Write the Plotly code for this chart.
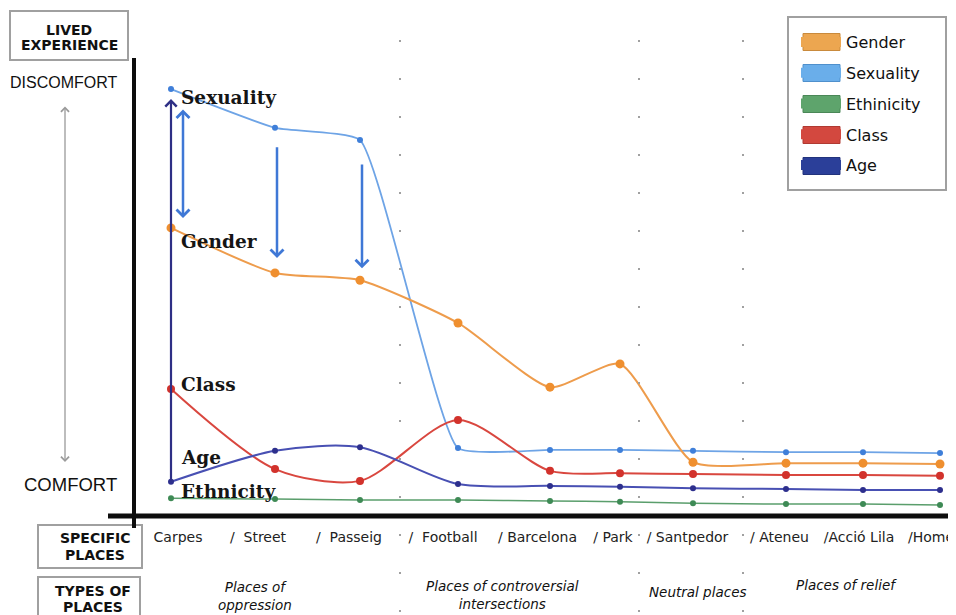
import plotly.graph_objects as go

# ---------------- data ----------------
places = ["Carpes", "Street", "Passeig", "Football", "Barcelona", "Park",
          "Santpedor", "Ateneu", "Acció Lila", "Home"]
# position of each place along the (uneven) route axis
place_pos = [36, 140, 225, 323, 415, 485, 558, 651, 728, 805]
# tick labels of the place row, and where their centres sit on the route axis
place_labels = ["Carpes", "/\u00a0\u00a0Street", "/\u00a0\u00a0Passeig", "/\u00a0\u00a0Football",
                "/\u00a0Barcelona", "/\u00a0Park", "/\u00a0Santpedor", "/\u00a0Ateneu",
                "/Acció Lila", "/Home"]
place_label_pos = [43, 123, 214, 308, 402.5, 478, 552.5, 644.5, 724, 796]

# lived experience (0 = comfort, 10 = discomfort)
sexuality = [9.36, 8.51, 8.24, 1.47, 1.43, 1.43, 1.41, 1.38, 1.38, 1.36]
gender    = [6.31, 5.32, 5.16, 4.22, 2.81, 3.32, 1.16, 1.14, 1.14, 1.12]
class_    = [2.77, 1.01, 0.75, 2.09, 0.97, 0.92, 0.90, 0.88, 0.88, 0.86]
age       = [0.73, 1.41, 1.49, 0.68, 0.64, 0.62, 0.59, 0.57, 0.55, 0.55]
ethnicity = [0.37, 0.35, 0.33, 0.33, 0.31, 0.29, 0.26, 0.24, 0.24, 0.22]

legend_names = ["Gender", "Sexuality", "Ethinicity", "Class", "Age"]
place_types = ["Places of<br>oppression", "Places of controversial<br>intersections",
               "Neutral places", "Places of relief"]

# ---------------- helpers (screen pixels -> paper) ----------------
BODY = 8                     # default page margin around the plot div
FW, FH = 956 - BODY, 615 - BODY
L, T, R, B = 135, 60, 956, 515   # plot area in screen pixels
W, H = R - L, B - T


def PX(px):
    return (px - L) / W


def PY(py):
    return (B - py) / H


fig = go.Figure()

series = [
    ("Sexuality", sexuality, "#6ea4e6", "#3f7fd9", 6, 1.8, 0.4),
    ("Gender", gender, "#ee9c4c", "#ef8f2f", 9, 2, 0.6),
    ("Class", class_, "#d9473f", "#d2322c", 8, 2, 0.8),
    ("Age", age, "#4850b3", "#2d2f8d", 6, 2, 0.8),
    ("Ethnicity", ethnicity, "#5a9e6c", "#3e8a55", 6, 1.5, 0.6),
]
for name, vals, lc, mc, ms, lw, sm in series:
    fig.add_trace(go.Scatter(
        x=place_pos, y=vals, name=name, mode="lines+markers",
        line=dict(color=lc, width=lw, shape="spline", smoothing=sm),
        marker=dict(color=mc, size=ms),
        showlegend=False, hoverinfo="skip"))

legend_cols = ["#eca650", "#6aaeea", "#5ea46c", "#d3483f", "#2b3f99"]
legend_edge = ["#c98a3c", "#4f90cc", "#4a8757", "#b03a32", "#22337c"]
for i, (nm, c) in enumerate(zip(legend_names, legend_cols)):
    fig.add_trace(go.Scatter(
        x=[None], y=[None], name=nm, mode="lines",
        line=dict(color=c, width=18), legendgroup=f"g{i}", showlegend=True))

annotations = []

# arrows
annotations.append(dict(x=place_pos[0], y=sexuality[0], ax=place_pos[0], ay=age[0],
                        xref="x", yref="y", axref="x", ayref="y", text="",
                        showarrow=True, arrowhead=4, arrowsize=1, arrowwidth=2.2,
                        arrowcolor="#2e2f85", standoff=10))
arrow_blue = "#3f78d6"
annotations.append(dict(x=place_pos[0], y=gender[0], ax=place_pos[0], ay=sexuality[0],
                        xref="x", yref="y", axref="x", ayref="y", text="", xshift=12,
                        showarrow=True, arrowhead=4, startarrowhead=4, arrowside="end+start",
                        arrowsize=1, startarrowsize=1, arrowwidth=2.5, arrowcolor=arrow_blue,
                        standoff=10, startstandoff=19))
annotations.append(dict(x=place_pos[1], y=gender[1], ax=place_pos[1], ay=sexuality[1],
                        xref="x", yref="y", axref="x", ayref="y", text="", xshift=2,
                        showarrow=True, arrowhead=4, arrowsize=1, arrowwidth=2.5,
                        arrowcolor=arrow_blue, standoff=15, startstandoff=18))
annotations.append(dict(x=place_pos[2], y=gender[2], ax=place_pos[2], ay=sexuality[2],
                        xref="x", yref="y", axref="x", ayref="y", text="", xshift=2,
                        showarrow=True, arrowhead=4, arrowsize=1, arrowwidth=2.5,
                        arrowcolor=arrow_blue, standoff=12, startstandoff=23))
# comfort / discomfort arrow
annotations.append(dict(x=PX(65), y=PY(462), xref="paper", yref="paper", ax=0, ay=-357,
                        axref="pixel", ayref="pixel", text="", showarrow=True,
                        arrowhead=4, startarrowhead=4, arrowside="end+start",
                        arrowsize=1.2, startarrowsize=1.2, arrowwidth=1.3, arrowcolor="#9a9a9a"))

# series labels in chart
serif = dict(family="DejaVu Serif", size=18.5, color="#151515")
for txt, py in [("<b>Sexuality</b>", 97), ("<b>Gender</b>", 241), ("<b>Class</b>", 384),
                ("<b>Age</b>", 457), ("<b>Ethnicity</b>", 491)]:
    annotations.append(dict(x=PX(179), y=PY(py), xref="paper", yref="paper", text=txt,
                            showarrow=False, xanchor="left", yanchor="middle", font=serif))

sans = "DejaVu Sans"
bold = dict(family=sans, size=14, color="#111")
for txt, cx, py in [("<b>LIVED</b>", 69, 30), ("<b>EXPERIENCE</b>", 69, 45),
                    ("<b>SPECIFIC</b>", 95, 538), ("<b>PLACES</b>", 95, 555),
                    ("<b>TYPES OF</b>", 93, 591), ("<b>PLACES</b>", 93, 607)]:
    annotations.append(dict(x=PX(cx), y=PY(py), xref="paper", yref="paper", text=txt,
                            showarrow=False, xanchor="center", yanchor="middle", font=bold))

annotations.append(dict(x=PX(63), y=PY(82), xref="paper", yref="paper", text="DISCOMFORT",
                        showarrow=False, xanchor="center", yanchor="middle",
                        font=dict(family="Liberation Sans", size=16, color="#111")))
annotations.append(dict(x=PX(70), y=PY(484), xref="paper", yref="paper", text="COMFORT",
                        showarrow=False, xanchor="center", yanchor="middle",
                        font=dict(family="Liberation Sans", size=18.5, color="#111")))

ital = dict(family=sans, size=13.5, color="#111")
for txt, cx, py in zip(place_types, [255, 502, 697, 846], [596, 595, 592, 585]):
    annotations.append(dict(x=PX(cx), y=PY(py), xref="paper", yref="paper",
                            text=f"<i>{txt}</i>", showarrow=False, font=ital,
                            xanchor="center", yanchor="middle"))

# shapes: axes, boxes, dotted separators, legend frame and swatches
shapes = [
    dict(type="line", xref="paper", yref="paper", x0=PX(134), x1=PX(134), y0=PY(58), y1=PY(528),
         line=dict(color="#0d0d0d", width=4)),
    dict(type="line", xref="paper", yref="paper", x0=PX(108), x1=PX(960), y0=PY(516), y1=PY(516),
         line=dict(color="#0d0d0d", width=5)),
]
for x0, y0, x1, y1 in [(10, 11, 128, 60), (38, 525, 142, 568), (38, 577, 140, 625),
                       (788, 17, 946, 190)]:
    shapes.append(dict(type="rect", xref="paper", yref="paper", x0=PX(x0), x1=PX(x1),
                       y0=PY(y0), y1=PY(y1), line=dict(color="#a0a0a0", width=2),
                       layer="below"))
for sx in [400, 639, 743]:
    shapes.append(dict(type="line", xref="paper", yref="paper", x0=PX(sx), x1=PX(sx),
                       y0=PY(40), y1=PY(640), line=dict(color="#a0a0a0", width=2, dash="2px,36px")))
for i, (c, e) in enumerate(zip(legend_cols, legend_edge)):
    cy = 42 + 31 * i
    shapes.append(dict(type="rect", xref="paper", yref="paper", x0=PX(803), x1=PX(840),
                       y0=PY(cy - 8.5), y1=PY(cy + 8.5), fillcolor=c,
                       line=dict(color=e, width=1), layer="below"))

fig.update_layout(
    width=FW, height=FH,
    margin=dict(l=L - BODY, r=956 - R, t=T - BODY, b=615 - B),
    template="none",
    paper_bgcolor="white", plot_bgcolor="white",
    xaxis=dict(range=[0, W], showgrid=False, zeroline=False, showline=False, ticks="",
               tickvals=place_label_pos, ticktext=place_labels, tickangle=0,
               tickfont=dict(family=sans, size=14, color="#222"), ticklabelstandoff=12),
    yaxis=dict(range=[0, 10], visible=False),
    showlegend=True,
    legend=dict(x=PX(796), y=PY(25), xanchor="left", yanchor="top",
                borderwidth=0, bgcolor="rgba(0,0,0,0)",
                font=dict(family=sans, size=16, color="#111"),
                traceorder="grouped", tracegroupgap=7, itemwidth=40),
    annotations=annotations,
    shapes=shapes,
)

fig.write_html("out.html")
